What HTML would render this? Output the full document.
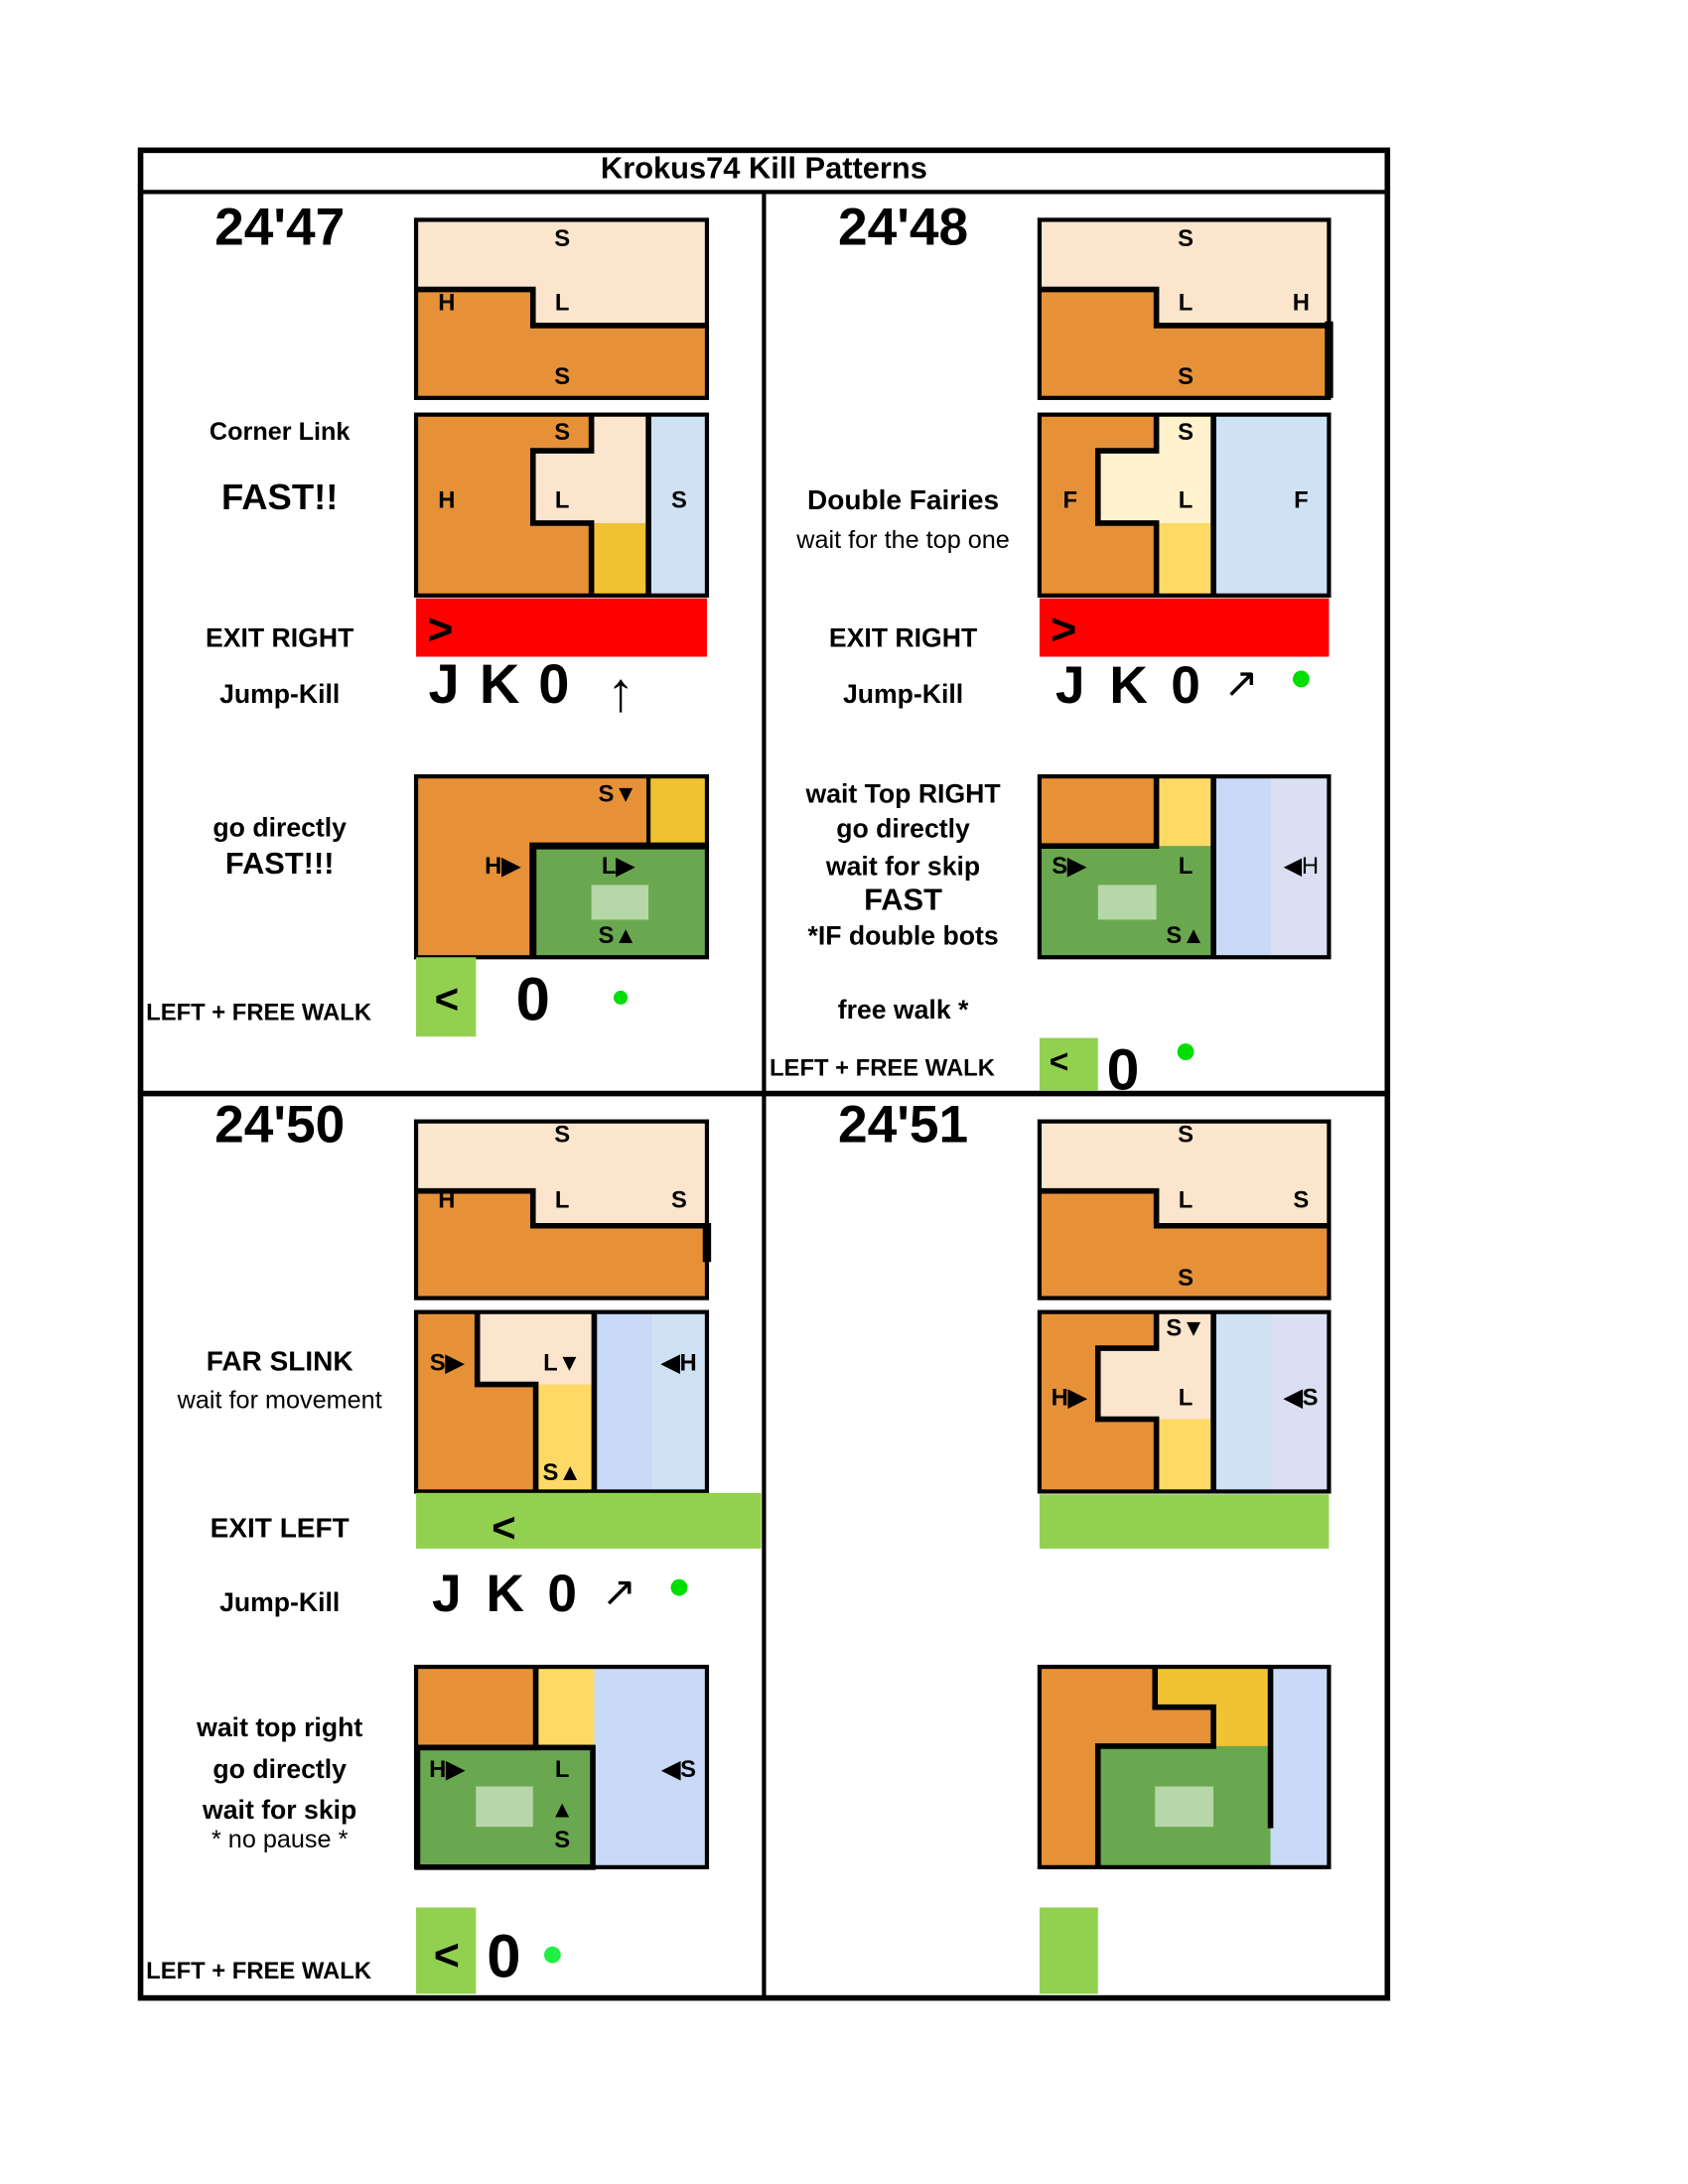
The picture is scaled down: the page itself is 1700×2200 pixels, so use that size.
<!DOCTYPE html>
<html><head><meta charset="utf-8"><style>
html,body{margin:0;padding:0;background:#fff;width:1700px;height:2200px;overflow:hidden}
svg{display:block}
text{font-family:"Liberation Sans",Arial,sans-serif;font-weight:bold;fill:#000}
.c{text-anchor:middle}
.n{font-weight:normal}
.l{font-size:17px;text-anchor:middle}
</style></head><body>
<svg width="1700" height="2200" viewBox="-1 -1 1213 1569.7" preserveAspectRatio="none" xmlns="http://www.w3.org/2000/svg">
<!-- frame -->
<rect x="100" y="107" width="896" height="1328" fill="none" stroke="#000" stroke-width="4"/>
<line x1="100" y1="137" x2="996" y2="137" stroke="#000" stroke-width="3"/>
<line x1="548" y1="137" x2="548" y2="1435" stroke="#000" stroke-width="3"/>
<line x1="100" y1="785" x2="996" y2="785" stroke="#000" stroke-width="4"/>
<text class="c" x="548" y="127" font-size="22">Krokus74 Kill Patterns</text>

<!-- ===== Panel 1 ===== -->
<text class="c" x="200" y="175" font-size="38">24'47</text>
<rect x="298" y="157" width="209" height="128" fill="#fce5cd"/>
<polygon points="298,207 382,207 382,233 507,233 507,285 298,285" fill="#e69138"/>
<polyline points="298,207 382,207 382,233 507,233" fill="none" stroke="#000" stroke-width="4"/>
<rect x="298" y="157" width="209" height="128" fill="none" stroke="#000" stroke-width="3"/>
<text class="l" x="403" y="176">S</text><text class="l" x="320" y="222">H</text><text class="l" x="403" y="222">L</text><text class="l" x="403" y="275">S</text>

<rect x="298" y="297" width="209" height="130" fill="#e69138"/>
<polygon points="424,297 465,297 465,427 424,427 424,375 382,375 382,323 424,323" fill="#fce5cd"/>
<rect x="424" y="375" width="41" height="52" fill="#f1c232"/>
<rect x="465" y="297" width="42" height="130" fill="#cfe2f3"/>
<polyline points="424,297 424,323 382,323 382,375 424,375 424,427" fill="none" stroke="#000" stroke-width="4"/>
<line x1="465" y1="297" x2="465" y2="427" stroke="#000" stroke-width="4"/>
<rect x="298" y="297" width="209" height="130" fill="none" stroke="#000" stroke-width="3"/>
<text class="l" x="403" y="315">S</text><text class="l" x="320" y="364">H</text><text class="l" x="403" y="364">L</text><text class="l" x="487" y="364">S</text>
<rect x="298" y="429" width="209" height="42" fill="#ff0000"/>
<text x="306" y="462" font-size="32">&gt;</text>

<text class="c" x="200" y="315" font-size="18">Corner Link</text>
<text class="c" x="200" y="365" font-size="26">FAST!!</text>
<text class="c" x="200" y="464" font-size="19">EXIT RIGHT</text>
<text class="c" x="200" y="504" font-size="19">Jump-Kill</text>
<text class="c" x="318" y="504" font-size="40">J</text>
<text class="c" x="358" y="504" font-size="40">K</text>
<text class="c" x="397" y="504" font-size="40">0</text>
<text class="c n" x="445" y="510" font-size="40">↑</text>

<rect x="298" y="557" width="209" height="130" fill="#e69138"/>
<rect x="465" y="557" width="42" height="50" fill="#f1c232"/>
<rect x="382" y="607" width="125" height="80" fill="#6aa84f"/>
<rect x="424" y="635" width="41" height="25" fill="#b6d7a8"/>
<polyline points="382,687 382,607 507,607" fill="none" stroke="#000" stroke-width="5"/>
<line x1="465" y1="557" x2="465" y2="607" stroke="#000" stroke-width="3"/>
<rect x="298" y="557" width="209" height="130" fill="none" stroke="#000" stroke-width="3"/>
<text class="l" x="443" y="575">S▼</text><text class="l" x="360" y="627">H▶</text><text class="l" x="443" y="627">L▶</text><text class="l" x="443" y="677">S▲</text>
<rect x="298" y="687" width="43" height="57" fill="#92d050"/>
<text class="c" x="320" y="727" font-size="30">&lt;</text>
<text class="c" x="382" y="732" font-size="44">0</text>
<circle cx="445" cy="716" r="5" fill="#00dd00"/>
<text class="c" x="200" y="600" font-size="19">go directly</text>
<text class="c" x="200" y="627" font-size="22">FAST!!!</text>
<text x="104" y="732" font-size="17">LEFT + FREE WALK</text>

<!-- ===== Panel 2 ===== -->
<text class="c" x="648" y="175" font-size="38">24'48</text>
<rect x="746" y="157" width="208" height="128" fill="#fce5cd"/>
<polygon points="746,207 830,207 830,233 954,233 954,285 746,285" fill="#e69138"/>
<polyline points="746,207 830,207 830,233 954,233" fill="none" stroke="#000" stroke-width="4"/>
<rect x="746" y="157" width="208" height="128" fill="none" stroke="#000" stroke-width="3"/>
<line x1="954" y1="230" x2="954" y2="285" stroke="#000" stroke-width="6"/>
<text class="l" x="851" y="176">S</text><text class="l" x="851" y="222">L</text><text class="l" x="934" y="222">H</text><text class="l" x="851" y="275">S</text>

<rect x="746" y="297" width="208" height="130" fill="#e69138"/>
<polygon points="830,297 870,297 870,427 830,427 830,375 788,375 788,323 830,323" fill="#fff2cc"/>
<rect x="830" y="375" width="40" height="52" fill="#ffd966"/>
<rect x="870" y="297" width="84" height="130" fill="#cfe2f3"/>
<polyline points="830,297 830,323 788,323 788,375 830,375 830,427" fill="none" stroke="#000" stroke-width="4"/>
<line x1="871" y1="297" x2="871" y2="427" stroke="#000" stroke-width="4"/>
<rect x="746" y="297" width="208" height="130" fill="none" stroke="#000" stroke-width="3"/>
<text class="l" x="851" y="315">S</text><text class="l" x="768" y="364">F</text><text class="l" x="851" y="364">L</text><text class="l" x="934" y="364">F</text>
<rect x="746" y="429" width="208" height="42" fill="#ff0000"/>
<text x="754" y="462" font-size="32">&gt;</text>

<text class="c" x="648" y="365" font-size="20">Double Fairies</text>
<text class="c n" x="648" y="393" font-size="18">wait for the top one</text>
<text class="c" x="648" y="464" font-size="19">EXIT RIGHT</text>
<text class="c" x="648" y="504" font-size="19">Jump-Kill</text>
<text class="c" x="768" y="504" font-size="38">J</text>
<text class="c" x="810" y="504" font-size="38">K</text>
<text class="c" x="851" y="504" font-size="38">0</text>
<text class="c n" x="891" y="500" font-size="30">↗</text>
<circle cx="934" cy="487" r="6" fill="#00dd00"/>

<rect x="746" y="557" width="208" height="130" fill="#6aa84f"/>
<rect x="746" y="557" width="84" height="50" fill="#e69138"/>
<rect x="830" y="557" width="40" height="50" fill="#ffd966"/>
<rect x="788" y="635" width="42" height="25" fill="#b6d7a8"/>
<rect x="871" y="557" width="41" height="130" fill="#c9daf8"/>
<rect x="912" y="557" width="42" height="130" fill="#dae0f2"/>
<polyline points="746,607 830,607 830,557" fill="none" stroke="#000" stroke-width="4"/>
<line x1="871" y1="557" x2="871" y2="687" stroke="#000" stroke-width="4"/>
<rect x="746" y="557" width="208" height="130" fill="none" stroke="#000" stroke-width="3"/>
<text class="l" x="767" y="627">S▶</text><text class="l" x="851" y="627">L</text><text class="l" x="851" y="677">S▲</text><text class="l n" x="934" y="627">◀H</text>
<text class="c" x="648" y="576" font-size="19">wait Top RIGHT</text>
<text class="c" x="648" y="601" font-size="19">go directly</text>
<text class="c" x="648" y="628" font-size="19">wait for skip</text>
<text class="c" x="648" y="653" font-size="22">FAST</text>
<text class="c" x="648" y="678" font-size="19">*IF double bots</text>
<text class="c" x="648" y="731" font-size="19">free walk *</text>
<text x="552" y="772" font-size="17">LEFT + FREE WALK</text>
<rect x="746" y="745" width="42" height="38" fill="#92d050"/>
<text class="c" x="760" y="770" font-size="24">&lt;</text>
<text class="c" x="806" y="782" font-size="42">0</text>
<circle cx="851" cy="755" r="6" fill="#00dd00"/>

<!-- ===== Panel 3 ===== -->
<text class="c" x="200" y="820" font-size="38">24'50</text>
<rect x="298" y="805" width="209" height="127" fill="#fce5cd"/>
<polygon points="298,855 382,855 382,880 507,880 507,932 298,932" fill="#e69138"/>
<polyline points="298,855 382,855 382,880 507,880" fill="none" stroke="#000" stroke-width="4"/>
<rect x="298" y="805" width="209" height="127" fill="none" stroke="#000" stroke-width="3"/>
<line x1="507" y1="878" x2="507" y2="906" stroke="#000" stroke-width="6"/>
<text class="l" x="403" y="820">S</text><text class="l" x="320" y="867">H</text><text class="l" x="403" y="867">L</text><text class="l" x="487" y="867">S</text>

<rect x="298" y="942" width="209" height="129" fill="#e69138"/>
<polygon points="342,942 426,942 426,1071 384,1071 384,994 342,994" fill="#fce5cd"/>
<rect x="384" y="994" width="42" height="77" fill="#ffd966"/>
<rect x="426" y="942" width="41" height="129" fill="#c9daf8"/>
<rect x="467" y="942" width="40" height="129" fill="#cfe2f3"/>
<polyline points="342,942 342,994 384,994 384,1071" fill="none" stroke="#000" stroke-width="4"/>
<line x1="426" y1="942" x2="426" y2="1071" stroke="#000" stroke-width="4"/>
<rect x="298" y="942" width="209" height="129" fill="none" stroke="#000" stroke-width="3"/>
<text class="l" x="320" y="984">S▶</text><text class="l" x="403" y="984">L▼</text><text class="l" x="403" y="1063">S▲</text><text class="l" x="487" y="984">◀H</text>
<rect x="298" y="1072" width="248" height="40" fill="#92d050"/>
<text class="c" x="361" y="1107" font-size="30">&lt;</text>
<text class="c" x="200" y="984" font-size="20">FAR SLINK</text>
<text class="c n" x="200" y="1011" font-size="18">wait for movement</text>
<text class="c" x="200" y="1104" font-size="20">EXIT LEFT</text>
<text class="c" x="200" y="1157" font-size="19">Jump-Kill</text>
<text class="c" x="320" y="1157" font-size="38">J</text>
<text class="c" x="362" y="1157" font-size="38">K</text>
<text class="c" x="403" y="1157" font-size="38">0</text>
<text class="c n" x="444" y="1153" font-size="30">↗</text>
<circle cx="487" cy="1140" r="6" fill="#00dd00"/>

<rect x="298" y="1197" width="209" height="144" fill="#c9daf8"/>
<rect x="298" y="1197" width="86" height="58" fill="#e69138"/>
<rect x="384" y="1197" width="42" height="58" fill="#ffd966"/>
<rect x="298" y="1255" width="128" height="86" fill="#6aa84f"/>
<rect x="341" y="1283" width="41" height="29" fill="#b6d7a8"/>
<polyline points="384,1197 384,1255 298,1255" fill="none" stroke="#000" stroke-width="4"/>
<rect x="298" y="1197" width="209" height="144" fill="none" stroke="#000" stroke-width="3"/>
<rect x="299" y="1255" width="126" height="86" fill="none" stroke="#000" stroke-width="4"/>
<text class="l" x="320" y="1276">H▶</text><text class="l" x="403" y="1276">L</text><text class="l" x="403" y="1305">▲</text><text class="l" x="403" y="1327">S</text><text class="l" x="487" y="1276">◀S</text>
<text class="c" x="200" y="1247" font-size="19">wait top right</text>
<text class="c" x="200" y="1277" font-size="19">go directly</text>
<text class="c" x="200" y="1306" font-size="19">wait for skip</text>
<text class="c n" x="200" y="1327" font-size="18">* no pause *</text>
<text x="104" y="1421" font-size="17">LEFT + FREE WALK</text>
<rect x="298" y="1370" width="43" height="62" fill="#92d050"/>
<text class="c" x="320" y="1415" font-size="32">&lt;</text>
<text class="c" x="361" y="1420" font-size="44">0</text>
<circle cx="396" cy="1404" r="6" fill="#22ee44"/>

<!-- ===== Panel 4 ===== -->
<text class="c" x="648" y="820" font-size="38">24'51</text>
<rect x="746" y="805" width="208" height="127" fill="#fce5cd"/>
<polygon points="746,855 830,855 830,880 954,880 954,932 746,932" fill="#e69138"/>
<polyline points="746,855 830,855 830,880 954,880" fill="none" stroke="#000" stroke-width="4"/>
<rect x="746" y="805" width="208" height="127" fill="none" stroke="#000" stroke-width="3"/>
<text class="l" x="851" y="820">S</text><text class="l" x="851" y="867">L</text><text class="l" x="934" y="867">S</text><text class="l" x="851" y="923">S</text>

<rect x="746" y="942" width="208" height="129" fill="#e69138"/>
<polygon points="830,942 871,942 871,1071 830,1071 830,1019 788,1019 788,968 830,968" fill="#fce5cd"/>
<rect x="830" y="1019" width="41" height="52" fill="#ffd966"/>
<rect x="871" y="942" width="41" height="129" fill="#cfe2f3"/>
<rect x="912" y="942" width="42" height="129" fill="#dae0f2"/>
<polyline points="830,942 830,968 788,968 788,1019 830,1019 830,1071" fill="none" stroke="#000" stroke-width="4"/>
<line x1="871" y1="942" x2="871" y2="1071" stroke="#000" stroke-width="4"/>
<rect x="746" y="942" width="208" height="129" fill="none" stroke="#000" stroke-width="3"/>
<text class="l" x="851" y="959">S▼</text><text class="l" x="767" y="1009">H▶</text><text class="l" x="851" y="1009">L</text><text class="l" x="934" y="1009">◀S</text>
<rect x="746" y="1073" width="208" height="39" fill="#92d050"/>

<rect x="746" y="1197" width="208" height="144" fill="#c9daf8"/>
<polygon points="746,1197 912,1197 912,1254 788,1254 788,1341 746,1341" fill="#e69138"/>
<polygon points="829,1197 912,1197 912,1254 871,1254 871,1226 829,1226" fill="#f1c232"/>
<rect x="788" y="1254" width="124" height="87" fill="#6aa84f"/>
<rect x="829" y="1283" width="42" height="29" fill="#b6d7a8"/>
<polyline points="829,1197 829,1226 871,1226 871,1254 788,1254 788,1341" fill="none" stroke="#000" stroke-width="4"/>
<line x1="912" y1="1197" x2="912" y2="1313" stroke="#000" stroke-width="4"/>
<rect x="746" y="1197" width="208" height="144" fill="none" stroke="#000" stroke-width="3"/>
<rect x="746" y="1370" width="42" height="62" fill="#92d050"/>
</svg>
</body></html>
